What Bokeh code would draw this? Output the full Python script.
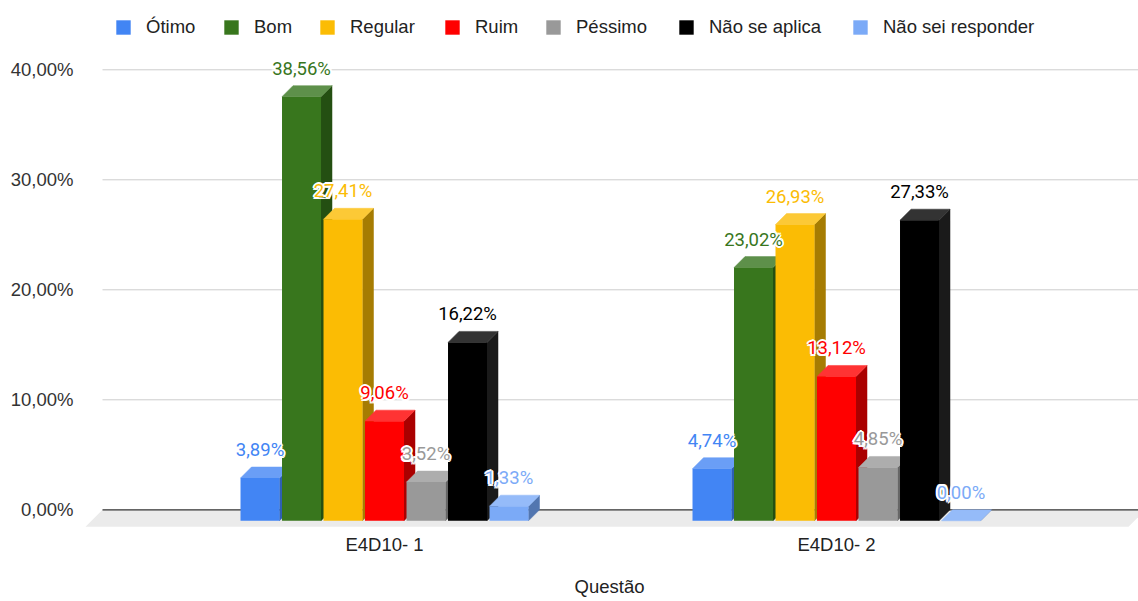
from bokeh.plotting import figure
from bokeh.models import Range1d, FixedTicker, Legend, LegendItem, ColumnDataSource
from bokeh.core.properties import value
from bokeh.embed import file_html
from bokeh.resources import INLINE

# ---------------- data ----------------
questions = ["E4D10- 1", "E4D10- 2"]
series_names = ["Ótimo", "Bom", "Regular", "Ruim", "Péssimo", "Não se aplica", "Não sei responder"]
otimo = [3.89, 4.74]
bom = [38.56, 23.02]
regular = [27.41, 26.93]
ruim = [9.06, 13.12]
pessimo = [3.52, 4.85]
nao_se_aplica = [16.22, 27.33]
nao_sei_responder = [1.33, 0.00]
y_ticks = [0, 10, 20, 30, 40]
y_tick_labels = ["0,00%", "10,00%", "20,00%", "30,00%", "40,00%"]
x_title = "Questão"

series_values = [otimo, bom, regular, ruim, pessimo, nao_se_aplica, nao_sei_responder]
front_colors = ["#4285f4", "#38761d", "#fbbc04", "#ff0000", "#999999", "#000000", "#7baaf7"]
top_colors = ["#6a9ef6", "#5e904a", "#fcc936", "#ff3333", "#adadad", "#333333", "#95bbf9"]
side_colors = ["#2e5fb3", "#244f12", "#a67c02", "#aa0000", "#666666", "#1a1a1a", "#5276b0"]

# ---------------- layout ----------------
W, H = 1138, 601
BL, BB, BT, BR = 80, 71, 0, 0
FW, FH = W - BL - BR, H - BB - BT
PXX = 452.0          # px per category unit
PXY = 11.0           # px per percent
x_start = -0.6726
x_end = x_start + FW / PXX
y_start = -20.7 / PXY
y_end = y_start + FH / PXY

step = 41.5 / PXX
bw = 39.0 / PXX
dx = 11.0 / PXX
dy = 11.0 / PXY
fdx = 17.0 / PXX
fdy = 17.0 / PXY

p = figure(width=W, height=H, output_backend="svg", toolbar_location=None,
           x_range=Range1d(x_start, x_end), y_range=Range1d(y_start, y_end),
           min_border_left=BL, min_border_bottom=BB, min_border_top=BT, min_border_right=BR)
p.outline_line_color = None
p.xgrid.visible = False
p.ygrid.visible = False
p.background_fill_color = "white"
p.border_fill_color = "white"

# floor
f_left = x_start + 5.0 / PXX
f_right = x_end - 10.0 / PXX
p.patch([f_left, f_right, f_right + fdx, f_left + fdx], [-fdy, -fdy, 0, 0],
        fill_color="#ebebeb", line_color=None)

# gridlines
g_left = f_left + fdx
gl = [t for t in y_ticks if t != 0]
p.segment(x0=[g_left] * len(gl), y0=gl, x1=[x_end] * len(gl), y1=gl,
          line_color="#cccccc", line_width=1)
p.segment(x0=[g_left], y0=[0], x1=[x_end], y1=[0], line_color="#333333", line_width=1.3)

front_renderers = []
nser = len(series_values)
for j, vals in enumerate(series_values):
    cs = [g + (j - (nser - 1) / 2) * step for g in range(len(questions))]
    lx = [c - bw / 2 for c in cs]
    rx = [c + bw / 2 for c in cs]
    side_xs = [[r, r, r + dx, r + dx] for r in rx]
    side_ys = [[-dy, v - dy, v, 0] for v in vals]
    top_xs = [[l, r, r + dx, l + dx] for l, r in zip(lx, rx)]
    top_ys = [[v - dy, v - dy, v, v] for v in vals]
    p.patches(side_xs, side_ys, fill_color=side_colors[j], line_color=side_colors[j], line_width=0.5)
    p.patches(top_xs, top_ys, fill_color=top_colors[j], line_color=top_colors[j], line_width=0.5)
    fr = p.quad(left=lx, right=rx, bottom=[-dy] * len(vals), top=[v - dy for v in vals],
                fill_color=front_colors[j], line_color=None)
    front_renderers.append(fr)

# data labels with white halo
halo = [(-2, 0), (2, 0), (0, -2), (0, 2), (-1.5, -1.5), (1.5, -1.5), (-1.5, 1.5), (1.5, 1.5)]
for j, vals in enumerate(series_values):
    cs = [g + (j - (nser - 1) / 2) * step for g in range(len(questions))]
    txt = [("%.2f%%" % v).replace(".", ",") for v in vals]
    src = ColumnDataSource(dict(x=cs, y=vals, t=txt))
    for ox, oy in halo:
        p.text(x="x", y="y", text="t", source=src, x_offset=ox, y_offset=-17 + oy,
               text_font=value("Roboto"), text_font_size="18.5px",
               text_align="center", text_baseline="middle", text_color="white")
    p.text(x="x", y="y", text="t", source=src, y_offset=-17,
           text_font=value("Roboto"), text_font_size="18.5px",
           text_align="center", text_baseline="middle",
           text_color=front_colors[j])

# axes
p.yaxis.ticker = FixedTicker(ticks=y_ticks)
p.yaxis.major_label_overrides = {t: l for t, l in zip(y_ticks, y_tick_labels)}
p.yaxis.axis_line_color = None
p.yaxis.major_tick_line_color = None
p.yaxis.minor_tick_line_color = None
p.yaxis.major_tick_out = 0
p.yaxis.major_label_standoff = 7
p.yaxis.major_label_text_font = "Liberation Sans"
p.yaxis.major_label_text_font_size = "18.5px"
p.yaxis.major_label_text_color = "#333333"

p.xaxis.ticker = FixedTicker(ticks=list(range(len(questions))))
p.xaxis.major_label_overrides = {i: q for i, q in enumerate(questions)}
p.xaxis.axis_line_color = None
p.xaxis.major_tick_line_color = None
p.xaxis.minor_tick_line_color = None
p.xaxis.major_tick_out = 0
p.xaxis.major_label_standoff = 3
p.xaxis.major_label_text_font = "Liberation Sans"
p.xaxis.major_label_text_font_size = "18.5px"
p.xaxis.major_label_text_color = "#222222"
p.xaxis.axis_label = x_title
p.xaxis.axis_label_standoff = 18
p.xaxis.axis_label_text_font = "Liberation Sans"
p.xaxis.axis_label_text_font_size = "18.5px"
p.xaxis.axis_label_text_font_style = "normal"
p.xaxis.axis_label_text_color = "#222222"

# legend: one entry per box so each sits where the reference places it
legend_square_x = [116, 224, 320, 445, 546, 679, 853]
for name, fr, sx in zip(series_names, front_renderers, legend_square_x):
    lg = Legend(items=[LegendItem(label=name, renderers=[fr])], orientation="horizontal",
                location=(sx - BL - 2, 492), padding=0, margin=0, spacing=0,
                glyph_width=18, glyph_height=18, label_standoff=14,
                label_text_font="Liberation Sans", label_text_font_size="18.5px",
                label_text_color="#222222", border_line_color=None, background_fill_alpha=0)
    p.add_layout(lg)

open("out.html", "w").write(file_html(p, INLINE))
